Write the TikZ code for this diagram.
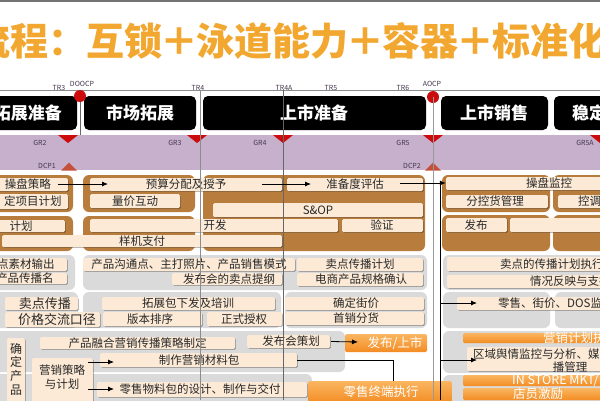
\documentclass[tikz,border=0pt]{standalone}
\usepackage{fontspec}
\setmainfont{Noto Sans CJK SC}
\usetikzlibrary{fit,shadows,arrows.meta}
\definecolor{titleor}{RGB}{242,168,48}
\definecolor{band}{RGB}{198,176,204}
\definecolor{gred}{RGB}{204,12,12}
\definecolor{dcpred}{RGB}{196,80,60}
\definecolor{brownc}{RGB}{184,124,60}
\definecolor{creamc}{RGB}{252,234,214}
\definecolor{greyc}{RGB}{218,218,218}
\definecolor{orangec}{RGB}{243,140,36}
\definecolor{orangel}{RGB}{250,182,96}
\definecolor{txtc}{RGB}{40,40,40}
\definecolor{lblc}{RGB}{70,55,80}
\tikzset{
 cream/.style={fill=creamc, rounded corners=1.5pt, drop shadow={shadow xshift=0.9pt, shadow yshift=-0.9pt, opacity=0.3, fill=black}},
 brownbox/.style={fill=brownc, rounded corners=6pt},
 greybox/.style={fill=greyc, rounded corners=6pt},
 orbox/.style={top color=orangel, bottom color=orangec, rounded corners=1.5pt},
 phase/.style={fill=black, rounded corners=5pt},
 btxt/.style={inner sep=0pt, text=txtc, font=\fontsize{11.5}{13}\selectfont},
 ltxt/.style={inner sep=0pt, text=txtc, font=\fontsize{13}{14}\selectfont},
 otxt/.style={inner sep=0pt, text=white, font=\fontsize{12.5}{14}\selectfont},
 ptxt/.style={inner sep=0pt, text=white, font=\bfseries\fontsize{17}{18}\selectfont},
 mtxt/.style={inner sep=0pt, text=lblc, font=\fontsize{7}{8}\selectfont},
 arr/.style={-{Latex[length=6pt,width=5pt]}, line width=0.8pt},
 conn/.style={line width=0.8pt},
 vline/.style={line width=0.5pt, draw=black!60},
}
\newcommand\bx[4]{\node[#1, inner sep=0pt, fit={(#3) (#4)}] (#2) {};}
\newcommand\tplus{\hspace{-2pt}＋\hspace{-2pt}}
\begin{document}
\begin{tikzpicture}[x=1pt,y=-1pt]
\useasboundingbox (0,0) rectangle (600,400);
\clip (0,0) rectangle (600,400);
\fill[white] (0,0) rectangle (600,400);
\draw[black!55, line width=1.5pt] (0,0.75) -- (600,0.75);
% title
\node[anchor=west, inner sep=0pt, text=titleor, font=\bfseries\fontsize{38}{40}\selectfont] (title) at (-28,41) {流程：互锁\tplus 泳道能力\tplus 容器\tplus 标准化};
% milestone line
\draw[black!45, line width=0.6pt] (0,90) -- (600,90);
\node[mtxt] (tr3) at (59,88) {TR3};
\node[mtxt] (doocp) at (82,84) {DOOCP};
\node[mtxt] (tr4) at (198,88) {TR4};
\node[mtxt] (tr4a) at (284,88) {TR4A};
\node[mtxt] (tr5) at (331,88) {TR5};
\node[mtxt] (tr6) at (403,88) {TR6};
\node[mtxt] (aocp) at (432,84) {AOCP};
% vertical lines (behind)
\draw[vline] (80,96) -- (80,135);
% phases
\bx{phase}{p1}{-20,96}{77,130}
\bx{phase}{p2}{84,96}{196,130}
\bx{phase}{p3}{203,96}{426,130}
\bx{phase}{p4}{441,96}{548,130}
\bx{phase}{p5}{554,96}{640,130}
\node[ptxt] (p1t) at (28,113) {拓展准备};
\node[ptxt] (p2t) at (140,113) {市场拓展};
\node[ptxt] (p3t) at (314,113) {上市准备};
\node[ptxt] (p4t) at (494,113) {上市销售};
\node[ptxt, anchor=west] (p5t) at (572,113) {稳定};
\node[circle, fill=gred, inner sep=0pt, minimum size=12pt] (dot1) at (80,96) {};
\node[circle, fill=gred, inner sep=0pt, minimum size=12pt] (dot2) at (433,97) {};
% band
\fill[band] (0,135) rectangle (600,170);
\foreach \x in {68,197,283,433,600} {\fill[gred] (\x-10,135) -- (\x+10,135) -- (\x,143) -- cycle;}
\foreach \x in {69,433} {\fill[dcpred] (\x-8,170.5) -- (\x+8,170.5) -- (\x,162.5) -- cycle;}
\node[mtxt] (gr2) at (40,143) {GR2};
\node[mtxt] (gr3) at (175,143) {GR3};
\node[mtxt] (gr4) at (260,143) {GR4};
\node[mtxt] (gr5) at (403,143) {GR5};
\node[mtxt] (gr5a) at (585,143) {GR5A};
\node[mtxt] (dcp1) at (47,166) {DCP1};
\node[mtxt] (dcp2) at (412,166) {DCP2};
% brown containers
\bx{brownbox}{B1}{-10,175}{73,212}
\bx{brownbox}{B2}{-10,216}{73,251}
\bx{brownbox}{B3}{83,175}{195,212}
\bx{brownbox}{B4}{83,216}{195,251}
\bx{brownbox}{B5}{203,175}{425,251}
\bx{brownbox}{B6}{442,175}{550,212}
\bx{brownbox}{B7}{442,215}{550,251}
\bx{brownbox}{B8}{553,175}{620,212}
\bx{brownbox}{B9}{553,215}{620,251}
% grey containers
\bx{greybox}{G1}{-10,255}{75,290}
\bx{greybox}{G2}{83,255}{427,290}
\bx{greybox}{G3}{443,255}{620,290}
\bx{greybox}{G4}{-10,292}{78,328}
\bx{greybox}{G5}{83,292}{281,328}
\bx{greybox}{G6}{285,292}{427,328}
\bx{greybox}{G7}{443,292}{550,328}
\bx{greybox}{G8}{555,292}{620,328}
\bx{greybox}{G9}{-10,331}{345,372}
\bx{greybox}{G10}{-10,374}{312,410}
\bx{greybox}{G11}{443,331}{620,373}
\bx{greybox}{G12}{443,375}{620,410}
% cream boxes, brown lanes
\bx{cream}{c1}{-5,178}{68,191}
\bx{cream}{c2}{-5,194}{68,209}
\bx{cream}{c3}{90,178}{282,191}
\bx{cream}{c4}{90,194}{180,208}
\bx{cream}{c5}{287,178}{423,191}
\bx{cream}{c6}{213,203}{423,217}
\bx{cream}{c7}{90,219}{338,232}
\bx{cream}{c8}{342,219}{423,232}
\bx{cream}{c9}{-5,220}{65,232}
\bx{cream}{c10}{2,235}{282,247}
\bx{cream}{c11}{446,177}{652,190}
\bx{cream}{c12}{446,195}{548,208}
\bx{cream}{c13}{558,195}{640,208}
\bx{cream}{c14}{446,218}{507,232}
\bx{cream}{c15}{510,218}{640,232}
\node[btxt] (c1t) at (28,184.5) {操盘策略};
\node[btxt] (c2t) at (33,201.5) {定项目计划};
\node[btxt] (c3t) at (186,184.5) {预算分配及授予};
\node[btxt] (c4t) at (135,201) {量价互动};
\node[btxt] (c5t) at (355,184.5) {准备度评估};
\node[btxt] (c6t) at (318,210) {S\&OP};
\node[btxt] (c7t) at (215,225.5) {开发};
\node[btxt] (c8t) at (382,225.5) {验证};
\node[btxt] (c9t) at (21,226) {计划};
\node[btxt] (c10t) at (142,241) {样机支付};
\node[btxt] (c11t) at (549,183.5) {操盘监控};
\node[btxt] (c12t) at (495,201.5) {分控货管理};
\node[btxt, anchor=west] (c13t) at (578,201.5) {控调};
\node[btxt] (c14t) at (476,225) {发布};
% row 3
\bx{cream}{d1}{-5,258}{67,271}
\bx{cream}{d2}{-5,273}{67,284}
\bx{cream}{d3}{83,258}{295,271}
\bx{cream}{d4}{172,273}{282,285}
\bx{cream}{d5}{297,258}{423,271}
\bx{cream}{d6}{297,273}{423,286}
\bx{cream}{d7}{447,257}{640,271}
\bx{cream}{d8}{447,275}{640,288}
\node[btxt] (d1t) at (26,264.5) {点素材输出};
\node[btxt] (d2t) at (25,278.5) {产品传播名};
\node[btxt] (d3t) at (189,264.5) {产品沟通点、主打照片、产品销售模式};
\node[btxt] (d4t) at (229,279) {发布会的卖点提纲};
\node[btxt] (d5t) at (360,264.5) {卖点传播计划};
\node[btxt] (d6t) at (361,279.5) {电商产品规格确认};
\node[btxt, anchor=west] (d7t) at (500,264) {卖点的传播计划执行};
\node[btxt, anchor=west] (d8t) at (530,281.5) {情况反映与支持};
% row 4
\bx{cream}{e1}{5,297}{78,310}
\bx{cream}{e2}{5,312}{100,327}
\bx{cream}{e3}{102,297}{275,310}
\bx{cream}{e4}{103,312}{202,326}
\bx{cream}{e5}{207,312}{282,326}
\bx{cream}{e6}{285,297}{424,310}
\bx{cream}{e7}{285,312}{424,325}
\bx{cream}{e8}{457,297}{640,310}
\node[ltxt] (e1t) at (45,303.5) {卖点传播};
\node[ltxt] (e2t) at (57,319.5) {价格交流口径};
\node[btxt] (e3t) at (188,303.5) {拓展包下发及培训};
\node[btxt] (e4t) at (150,319) {版本排序};
\node[btxt] (e5t) at (244,319) {正式授权};
\node[btxt] (e6t) at (356,303.5) {确定街价};
\node[btxt] (e7t) at (356,318.5) {首销分货};
\node[btxt, anchor=west] (e8t) at (498,303.5) {零售、街价、DOS监};
% row 5
\bx{cream}{f1}{7,338}{25,410}
\bx{cream}{f2}{40,337}{235,349}
\bx{cream}{f3}{247,335}{330,348}
\bx{orbox}{f4}{345,334}{427,352}
\bx{cream}{f5}{32,358}{93,402}
\bx{cream}{f6}{100,353}{297,367}
\bx{cream}{f7}{97,382}{307,397}
\bx{orbox}{f8}{308,381}{452,403}
\bx{orbox}{f9}{463,333}{640,343}
\bx{cream}{f10}{467,347}{640,371}
\bx{orbox}{f11}{463,375}{640,386}
\bx{orbox}{f12}{463,388}{640,400}
\node[btxt, align=center, font=\fontsize{12}{13.7}\selectfont] (f1t) at (16,369) {确\\定\\产\\品};
\node[btxt] (f2t) at (137.5,343) {产品融合营销传播策略制定};
\node[btxt] (f3t) at (291,341.5) {发布会策划};
\node[otxt] (f4t) at (395,343) {发布/上市};
\node[btxt, align=center, font=\fontsize{11.5}{14}\selectfont] (f5t) at (62,377) {营销策略\\与计划};
\node[btxt] (f6t) at (199,360) {制作营销材料包};
\node[btxt] (f7t) at (200,389.5) {零售物料包的设计、制作与交付};
\node[otxt] (f8t) at (381,391.5) {零售终端执行};
\node[otxt, anchor=west] (f9t) at (543,338) {营销计划执};
\node[btxt, anchor=west] (f10a) at (473,354) {区域舆情监控与分析、媒介};
\node[btxt] (f10b) at (570,367) {播管理};
\node[otxt, anchor=west] (f11t) at (512,380.5) {IN STORE MKT/};
\node[otxt, anchor=west] (f12t) at (513,394) {店员激励};
% vertical milestone lines on top
\draw[vline, draw=black!45] (200,90) -- (200,400);
\draw[vline] (283,90) -- (283,400);
\draw[vline, draw=black!40] (433,97) -- (433,400);
% connectors
\coordinate (a1s) at (58,184);
\coordinate (a1e) at (108,184);
\draw[arr] (a1s) -- (a1e);
\coordinate (a2s) at (262,184);
\coordinate (a2e) at (311,184);
\draw[arr] (a2s) -- (a2e);
\coordinate (a3s) at (400,183);
\coordinate (trunk) at (440,183);
\coordinate (trunkend) at (440,400);
\draw[arr] (a3s) -- (c11.west |- a3s);
\draw[conn] (trunk) -- (trunkend);
\draw[arr] (440,303) -- (477,303);
\draw[arr] (440,360) -- (477,360);
\draw[arr] (f3.east |- f3t) ++(1,0) -- (358,342);
\coordinate (a7s) at (88,362);
\coordinate (a7e) at (114,362);
\draw[arr] (a7s) -- (a7e);
\coordinate (a8s) at (88,389);
\coordinate (a8e) at (114,389);
\draw[arr] (a8s) -- (a8e);
\coordinate (bend) at (393,360);
\draw[conn] (f6.east |- bend) -- (bend) -- (bend |- f8.north);
\end{tikzpicture}
\end{document}
